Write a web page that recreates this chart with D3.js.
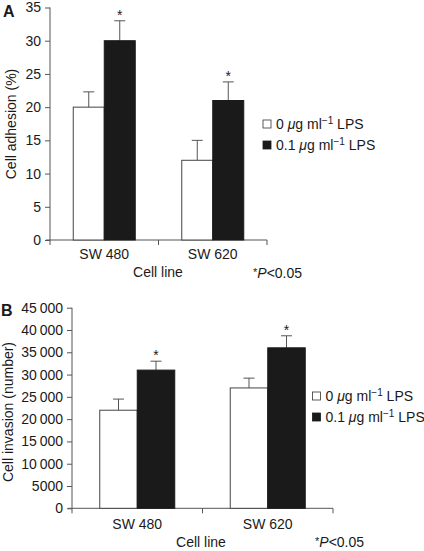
<!DOCTYPE html>
<html><head><meta charset="utf-8">
<script src="https://cdn.jsdelivr.net/npm/d3@7"></script>
<style>
body{margin:0;background:#fff;}
text{font-family:"Liberation Sans",Arial,sans-serif;fill:#1a1a1a;}
</style></head>
<body><svg id="c" width="424" height="551"></svg>
<script>
const categories = ["SW 480", "SW 620"];
const seriesNames = ["0", "0.1"];
const adhesionMean = [[20, 30], [12, 21]];
const adhesionErr = [[2.3, 3.0], [3.0, 2.8]];
const adhesionTicks = [0, 5, 10, 15, 20, 25, 30, 35];
const invasionMean = [[22000, 31000], [27000, 36000]];
const invasionErr = [[2500, 2000], [2200, 2700]];
const invasionTicks = [0, 5000, 10000, 15000, 20000, 25000, 30000, 35000, 40000, 45000];
const sig = [[false, true], [false, true]];

const svg = d3.select("#c");
const AX = "#555";
const BLACK = "#1a1a1a";

function panel(o) {
  const g = svg.append("g");
  const x = d3.scaleBand().domain(categories).range([o.x0, o.x1]);
  const xi = d3.scaleBand().domain(seriesNames).range([0, x.bandwidth()]).paddingInner(0).paddingOuter(o.pad);
  const y = d3.scaleLinear().domain([0, o.max]).range([o.y0, o.y1]);

  // y axis
  const ya = g.append("g").attr("transform", `translate(${o.x0},0)`)
    .call(d3.axisLeft(y).tickValues(o.ticks).tickSize(5).tickPadding(4).tickFormat(o.fmt));
  ya.select(".domain").attr("stroke", AX).attr("d", `M0,${o.y0+5}V${o.y1}`);
  ya.selectAll(".tick line").attr("stroke", AX);
  ya.selectAll(".tick text").attr("font-size", 14).attr("font-family", "Liberation Sans, Arial, sans-serif").attr("fill", "#1a1a1a");

  // x axis line and boundary ticks
  g.append("line").attr("x1", o.x0 - 4).attr("x2", o.x1).attr("y1", o.y0).attr("y2", o.y0).attr("stroke", AX);
  const bounds = [x(categories[1]), o.x1];
  g.selectAll(".xt").data(bounds).join("line")
    .attr("x1", d => d).attr("x2", d => d).attr("y1", o.y0).attr("y2", o.y0 + 5).attr("stroke", AX);

  categories.forEach((c, ci) => {
    seriesNames.forEach((s, si) => {
      const bx = x(c) + xi(s), bw = xi.bandwidth();
      const v = o.mean[ci][si], e = o.err[ci][si];
      const cx = bx + bw / 2;
      // error bar
      g.append("line").attr("x1", cx).attr("x2", cx).attr("y1", y(v)).attr("y2", y(v + e)).attr("stroke", AX);
      g.append("line").attr("x1", cx - 5.5).attr("x2", cx + 5.5).attr("y1", y(v + e)).attr("y2", y(v + e)).attr("stroke", AX);
      g.append("rect").attr("x", bx).attr("y", y(v)).attr("width", bw).attr("height", y(0) - y(v))
        .attr("fill", si === 0 ? "#fff" : BLACK).attr("stroke", si === 0 ? "#444" : BLACK).attr("stroke-width", 1);
      if (sig[ci][si]) {
        g.append("text").attr("x", cx).attr("y", y(v + e) + o.astOff).attr("text-anchor", "middle").attr("font-size", 14).text("*");
      }
    });
    g.append("text").attr("x", x(c) + x.bandwidth() / 2).attr("y", o.catY).attr("text-anchor", "middle").attr("font-size", 14).text(c);
  });

  g.append("text").attr("x", o.cellX).attr("y", o.cellY).attr("text-anchor", "middle").attr("font-size", 14).text("Cell line");

  // y label
  g.append("text").attr("transform", `translate(${o.ylx},${o.yly}) rotate(-90)`).attr("text-anchor", "middle").attr("font-size", 14).text(o.ylabel);

  // panel letter
  g.append("text").attr("x", o.lx).attr("y", o.ly).attr("font-size", 16).attr("font-weight", "bold").text(o.letter);

  // legend
  seriesNames.forEach((s, si) => {
    const ly = o.legY + si * 21;
    g.append("rect").attr("x", o.legX).attr("y", ly - 4).attr("width", 8).attr("height", 8)
      .attr("fill", si === 0 ? "#fff" : BLACK).attr("stroke", si === 0 ? "#333" : BLACK).attr("stroke-width", 0.8);
    const t = g.append("text").attr("x", o.legX + 13).attr("y", ly + 5).attr("font-size", 14);
    t.append("tspan").text(s + " ");
    t.append("tspan").attr("font-style", "italic").text("\u03bc");
    t.append("tspan").text("g ml");
    t.append("tspan").attr("font-size", 10).attr("dy", -5).text("\u22121");
    t.append("tspan").attr("dy", 5).text(" LPS");
  });

  // p-value note
  const p = g.append("text").attr("x", o.pX).attr("y", o.pY).attr("font-size", 14);
  p.append("tspan").attr("font-size", 11).attr("dy", -2).text("*");
  p.append("tspan").attr("dy", 2).attr("font-style", "italic").text("P");
  p.append("tspan").text("<0.05");
}

panel({
  x0: 50, x1: 267, y0: 240, y1: 7.5, max: 35, pad: 0.75,
  ticks: adhesionTicks, fmt: d3.format("d"),
  mean: adhesionMean, err: adhesionErr, astOff: -0.5,
  catY: 259, cellX: 158, cellY: 277,
  ylx: 16, yly: 124, ylabel: "Cell adhesion (%)",
  letter: "A", lx: 3, ly: 17,
  legX: 263, legY: 124, pX: 253, pY: 278
});

panel({
  x0: 72, x1: 333, y0: 508.3, y1: 307.7, max: 45000, pad: 0.74,
  ticks: invasionTicks, fmt: d => d === 0 ? "0" : (d < 10000 ? String(d) : d3.format(",")(d).replace(",", "\u2009")),
  mean: invasionMean, err: invasionErr, astOff: -1,
  catY: 529, cellX: 201, cellY: 547,
  ylx: 13, yly: 412, ylabel: "Cell invasion (number)",
  letter: "B", lx: 1, ly: 316,
  legX: 312.5, legY: 396, pX: 315, pY: 547
});
</script></body></html>
